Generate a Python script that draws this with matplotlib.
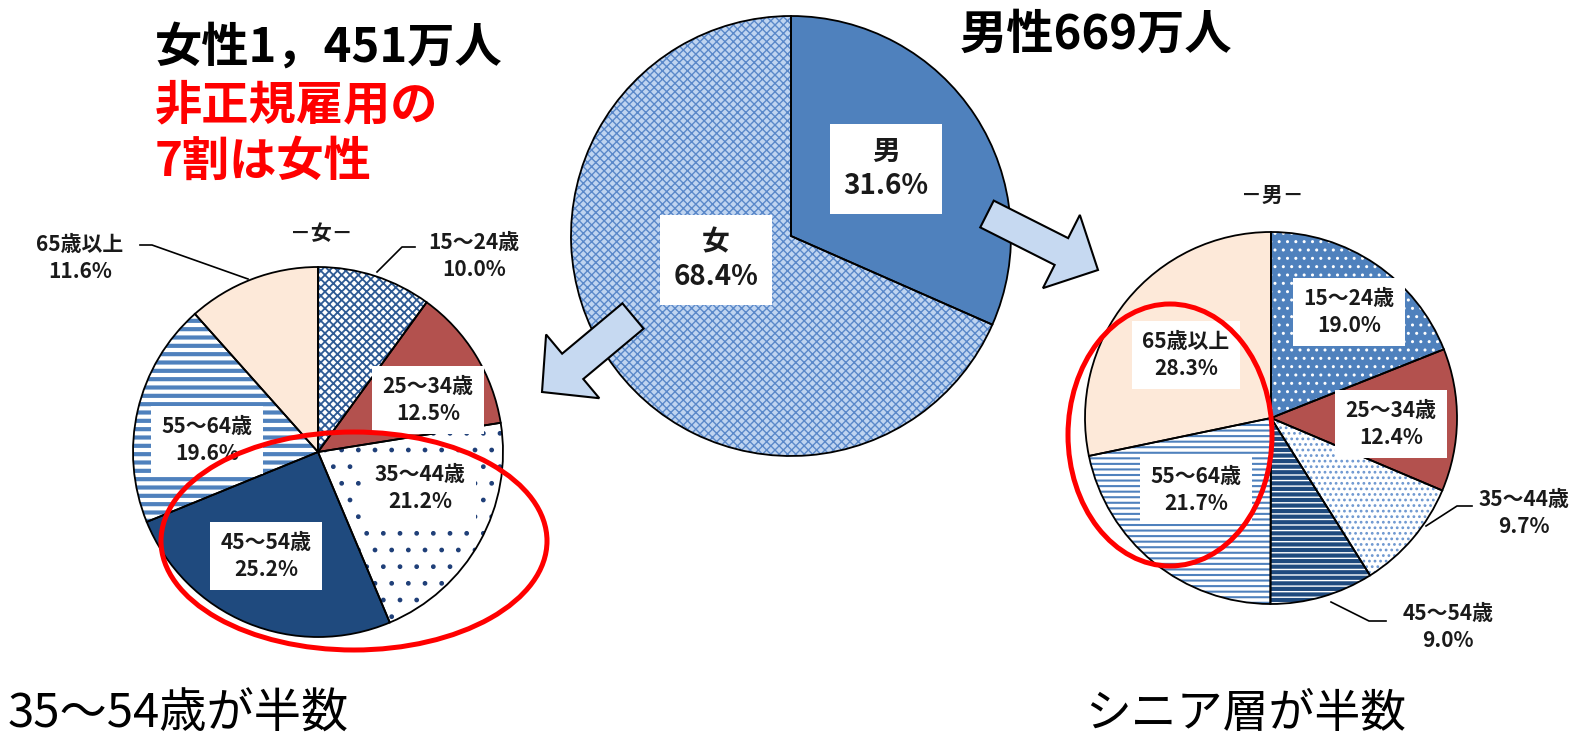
import matplotlib
matplotlib.use("Agg")
import matplotlib.pyplot as plt
from matplotlib.patches import Ellipse, FancyArrow

plt.rcParams['font.family'] = ['Noto Sans CJK JP', 'DejaVu Sans']
plt.rcParams['hatch.linewidth'] = 1.0

W, H = 1581, 739

# 非正規雇用者の男女比 (%)
sex_labels = ['男', '女']
sex_share = [31.6, 68.4]

# 年齢階級別の内訳 (%)
age_groups = ['15～24歳', '25～34歳', '35～44歳', '45～54歳', '55～64歳', '65歳以上']
female_share = [10.0, 12.5, 21.2, 25.2, 19.6, 11.6]
male_share = [19.0, 12.4, 9.7, 9.0, 21.7, 28.3]

# (facecolor, hatch, hatch color, hatch linewidth)
sex_styles = [('#4f81bd', None, None, 0),
              ('#bfd4f0', 'xxxx', '#5a88c9', 1.0)]
female_styles = [('white', 'xxxx', '#2e5a94', 1.3),
                 ('#b3514e', None, None, 0),
                 ('white', '.', '#1f3f78', 1.0),
                 ('#1f4a7e', None, None, 0),
                 ('white', '--', '#4f81bd', 3.0),
                 ('#fde9d9', None, None, 0)]
male_styles = [('#4f81bd', '..', 'white', 1.0),
               ('#b3514e', None, None, 0),
               ('white', '...', '#6d97d0', 1.2),
               ('#1f4a7e', '---', 'white', 1.0),
               ('white', '---', '#4f81bd', 1.5),
               ('#fde9d9', None, None, 0)]


def py(y):
    # pixel rows run downward, the axes run upward
    return H - y


def draw_pie(ax, values, center, radius, styles):
    c = (center[0], py(center[1]))
    wedges, _ = ax.pie(values, center=c, radius=radius, startangle=90,
                       counterclock=False, wedgeprops=dict(linewidth=0))
    for w, (fc, hatch, hc, hlw) in zip(wedges, styles):
        w.set_facecolor(fc)
        if hatch:
            w.set_edgecolor(hc)
            w.set_hatch(hatch)
            if hasattr(w, 'set_hatch_linewidth'):
                w.set_hatch_linewidth(hlw)
        else:
            w.set_edgecolor('none')
    # black outlines on top of the fills
    ax.pie(values, center=c, radius=radius, startangle=90, counterclock=False,
           colors=['none'] * len(values),
           wedgeprops=dict(linewidth=1.3, edgecolor='black', fill=False))


def box_label(ax, x, y, s, size=15):
    ax.text(x, py(y), s, ha='center', va='center', fontsize=size,
            fontweight='bold', color='#1a1a1a', linespacing=1.3, zorder=6,
            bbox=dict(boxstyle='square,pad=0.5', fc='white', ec='none'))


def plain_label(ax, x, y, s, size=15):
    ax.text(x, py(y), s, ha='center', va='center', fontsize=size,
            fontweight='bold', color='#1a1a1a', linespacing=1.3, zorder=6)


def leader(ax, pts):
    ax.plot([p[0] for p in pts], [py(p[1]) for p in pts],
            color='black', lw=1.2, zorder=5)


fig = plt.figure(figsize=(W / 100, H / 100), dpi=100)
ax = fig.add_axes([0, 0, 1, 1])

draw_pie(ax, sex_share, (791, 236), 220, sex_styles)
draw_pie(ax, female_share, (318, 452), 185, female_styles)
draw_pie(ax, male_share, (1271, 418), 186, male_styles)

# arrows from the total pie to the breakdowns
arrow_kw = dict(length_includes_head=True, fc='#c6d9f1', ec='black',
                lw=1.5, zorder=4)
ax.add_patch(FancyArrow(633, py(316), -91, -76, width=33, head_width=83,
                        head_length=40, **arrow_kw))
ax.add_patch(FancyArrow(987, py(214), 111, -56, width=30, head_width=82,
                        head_length=41, **arrow_kw))

# total pie labels
for (x, y), lab, v in zip([(886, 169), (716, 260)], sex_labels, sex_share):
    box_label(ax, x, y, f'{lab}\n{v:.1f}%', size=20)

# female breakdown
ax.text(321, py(234), '－女－', ha='center', va='center', fontsize=15,
        fontweight='bold', color='#1a1a1a')
f_pos = [(474, 256), (428, 400), (420, 488), (266, 556), (207, 440), (80, 258)]
f_boxed = [False, True, True, True, True, False]
for (x, y), g, v, b in zip(f_pos, age_groups, female_share, f_boxed):
    (box_label if b else plain_label)(ax, x, y, f'{g}\n{v:.1f}%')
leader(ax, [(140, 245), (152, 245), (248, 279)])
leader(ax, [(415, 247), (402, 247), (377, 272)])

# male breakdown
ax.text(1272, py(195), '－男－', ha='center', va='center', fontsize=15,
        fontweight='bold', color='#1a1a1a')
m_pos = [(1349, 312), (1391, 424), (1524, 513), (1448, 627), (1196, 490), (1186, 355)]
m_boxed = [True, True, False, False, True, True]
for (x, y), g, v, b in zip(m_pos, age_groups, male_share, m_boxed):
    (box_label if b else plain_label)(ax, x, y, f'{g}\n{v:.1f}%')
leader(ax, [(1472, 506), (1457, 506), (1426, 526)])
leader(ax, [(1386, 621), (1369, 621), (1331, 602)])

# red highlight rings
ax.add_patch(Ellipse((354, py(541)), 386, 218, fill=False, ec='#ff0000',
                     lw=3.6, zorder=7))
ax.add_patch(Ellipse((1170, py(435)), 204, 262, fill=False, ec='#ff0000',
                     lw=3.6, zorder=7))

# headlines
ax.text(155, py(48), '女性1，451万人', ha='left', va='center', fontsize=34,
        fontweight='bold', color='black')
ax.text(155, py(105), '非正規雇用の', ha='left', va='center', fontsize=34,
        fontweight='bold', color='#ff0000')
ax.text(155, py(162), '7割は女性', ha='left', va='center', fontsize=34,
        fontweight='bold', color='#ff0000')
ax.text(960, py(35), '男性669万人', ha='left', va='center', fontsize=34,
        fontweight='bold', color='black')
ax.text(8, py(714), '35～54歳が半数', ha='left', va='center', fontsize=34,
        color='black')
ax.text(1085, py(714), 'シニア層が半数', ha='left', va='center', fontsize=33,
        color='black')

ax.set_xlim(0, W)
ax.set_ylim(0, H)
ax.set_aspect('auto')
ax.axis('off')

fig.savefig('out.png', dpi=100)
